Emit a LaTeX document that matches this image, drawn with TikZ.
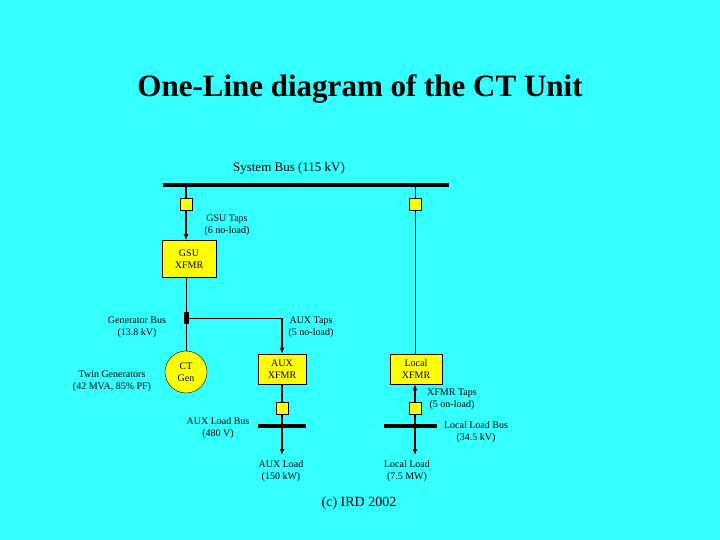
\documentclass[tikz,border=0pt]{standalone}
\usepackage{fontspec}
\setmainfont{Liberation Serif}
\usetikzlibrary{arrows.meta}
\definecolor{bg}{RGB}{51,255,255}
\definecolor{yel}{RGB}{255,255,0}
\begin{document}
\begin{tikzpicture}[x=1pt,y=-1pt,
  box/.style={draw,fill=yel,line width=0.6pt,align=center,font=\fontsize{10}{11.5}\selectfont,inner sep=0pt},
  tap/.style={draw,fill=yel,line width=0.6pt,minimum size=12pt,inner sep=0pt},
  lbl/.style={align=center,font=\fontsize{10}{12}\selectfont},
  bus/.style={line width=4pt},
  wire/.style={line width=0.7pt},
  fat/.style={line width=2pt,-{Latex[length=6pt,width=5pt]}}]
\fill[bg] (0,0) rectangle (720,540);
\useasboundingbox (0,0) rectangle (720,540);
\node[font=\bfseries\fontsize{31}{34}\selectfont] (title) at (360,89) {One-Line diagram of the CT Unit};
\node[font=\fontsize{13}{15}\selectfont] (sbl) at (289,168) {System Bus (115 kV)};
\coordinate (sbL) at (163,185); \coordinate (sbR) at (449,185);
\draw[bus] (sbL) -- (sbR);
\coordinate (b1) at (186,185); \coordinate (b2) at (415,185);
\node[tap] (t1) at (186,204) {};
\node[tap] (t2) at (415,204) {};
\node[box,minimum width=54pt,minimum height=37pt] (gsu) at (189,259) {GSU\\XFMR};
\node[lbl] (gsul) at (227,225) {GSU Taps\\(6 no-load)};
\draw[line width=2pt] (b1) -- (t1);
\draw[fat] (t1) -- (t1 |- gsu.north);
\node[fill=black,minimum width=5pt,minimum height=12pt,inner sep=0pt] (gb) at (186,318) {};
\node[lbl] (gbl) at (137,327) {Generator Bus\\(13.8 kV)};
\draw[wire] (gsu.south -| gb) -- (gb);
\node[circle,draw,fill=yel,minimum size=42pt,inner sep=0pt,lbl] (gen) at (186,372) {CT\\Gen};
\draw[wire] (gb) -- (gen);
\node[lbl] (genl) at (112,381) {Twin Generators\\(42 MVA, 85\% PF)};
\node[box,minimum width=48pt,minimum height=30pt] (aux) at (282,369) {AUX\\XFMR};
\coordinate (ac) at (282,318);
\draw[wire] (gb) -- (ac);
\draw[fat] (ac) -- (aux.north);
\node[lbl] (auxl) at (311,327) {AUX Taps\\(5 no-load)};
\node[tap] (t3) at (282,408) {};
\draw[line width=2pt] (aux.south) -- (t3);
\draw[bus] (258,426) coordinate (alL) -- (306,426) coordinate (alR);
\coordinate (al) at (282,455);
\draw[fat] (t3) -- (al);
\node[lbl] (alb) at (218,428) {AUX Load Bus\\(480 V)};
\node[lbl] (all) at (281,471) {AUX Load\\(150 kW)};
\node[box,minimum width=52pt,minimum height=30pt] (loc) at (416,369) {Local\\XFMR};
\draw[wire] (b2) -- (t2);
\draw[wire] (t2) -- (t2 |- loc.north);
\node[tap] (t4) at (415,408) {};
\draw[fat] (t4) -- (t4 |- loc.south);
\node[lbl] (locl) at (452,399) {XFMR Taps\\(5 on-load)};
\draw[bus] (384,426) coordinate (llL) -- (437,426) coordinate (llR);
\coordinate (ll) at (415,455);
\draw[fat] (t4) -- (ll);
\node[lbl] (llb) at (476,432) {Local Load Bus\\(34.5 kV)};
\node[lbl] (lll) at (407,471) {Local Load\\(7.5 MW)};
\node[font=\fontsize{14}{16}\selectfont] (c) at (359,503) {(c) IRD 2002};
\end{tikzpicture}
\end{document}
